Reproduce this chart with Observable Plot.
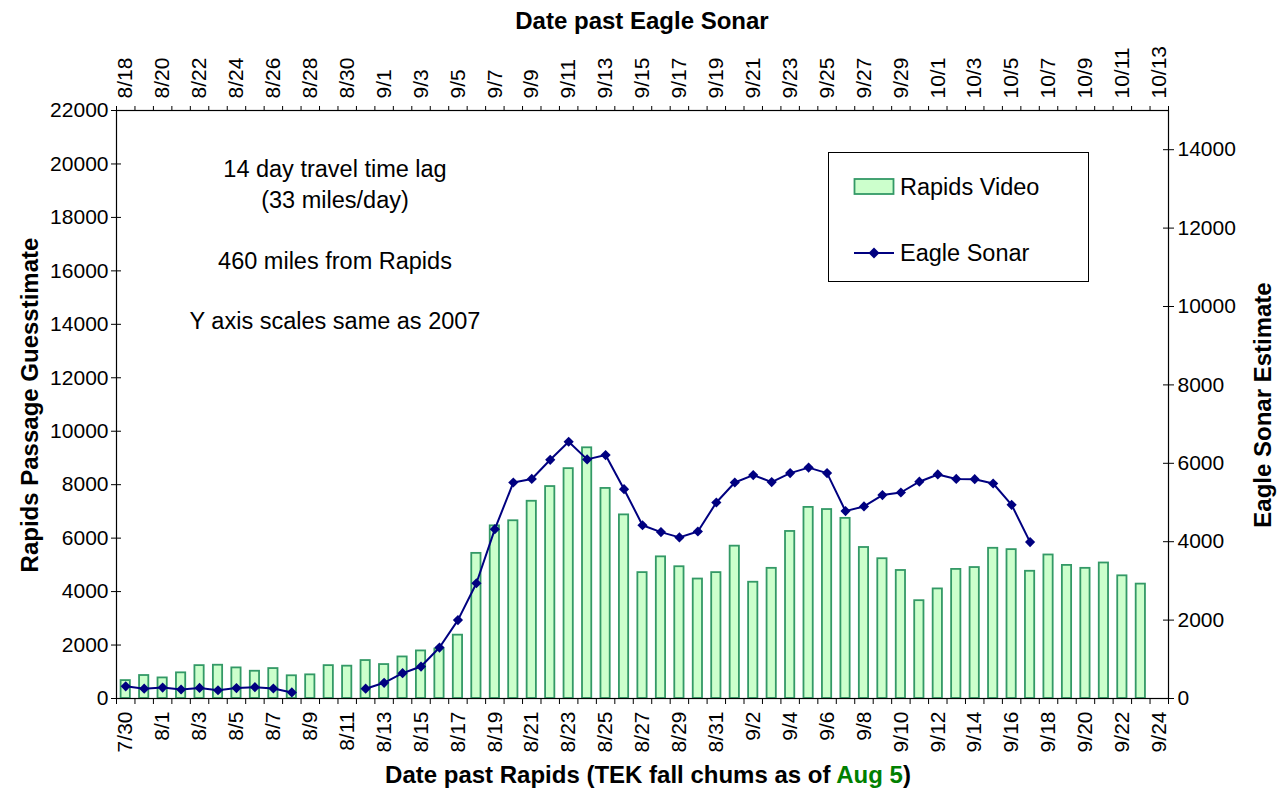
<!DOCTYPE html>
<html><head><meta charset="utf-8">
<script src="https://cdn.jsdelivr.net/npm/d3@7"></script>
<script src="https://cdn.jsdelivr.net/npm/@observablehq/plot@0.6"></script>
<style>
body{margin:0;background:#fff;font-family:"Liberation Sans",Arial,sans-serif;}
#wrap{position:relative;width:1288px;height:789px;overflow:hidden;}
#wrap svg{position:absolute;left:0;top:0;}
.t{position:absolute;white-space:nowrap;color:#000;line-height:1;transform:translate(-50%,-50%);}
.b{font-weight:bold;font-size:24px;}
.ann{font-size:23.5px;}
.rot{transform:translate(-50%,-50%) rotate(-90deg);}
#legend{position:absolute;left:828px;top:152px;width:261px;height:130px;border:1px solid #000;box-sizing:border-box;background:#fff;}
</style></head><body><div id="wrap"></div>
<script>
// ---------- data ----------
const year = 2008;
// Rapids video: daily passage by date past Rapids
const rapidsDays = ["7/30","7/31","8/1","8/2","8/3","8/4","8/5","8/6","8/7","8/8","8/9","8/10","8/11","8/12","8/13","8/14","8/15","8/16","8/17","8/18","8/19","8/20","8/21","8/22","8/23","8/24","8/25","8/26","8/27","8/28","8/29","8/30","8/31","9/1","9/2","9/3","9/4","9/5","9/6","9/7","9/8","9/9","9/10","9/11","9/12","9/13","9/14","9/15","9/16","9/17","9/18","9/19","9/20","9/21","9/22","9/23"];
const rapidsVideo = [670,860,770,960,1230,1245,1145,1020,1120,850,885,1230,1210,1420,1270,1555,1780,1850,2370,5430,6460,6650,7380,7930,8600,9380,7860,6870,4710,5300,4930,4470,4710,5700,4350,4870,6250,7150,7070,6740,5650,5230,4790,3660,4100,4830,4900,5620,5570,4760,5370,4980,4870,5070,4590,4280];
// Eagle sonar: daily estimate by date past Eagle (null = no data)
const sonarDays = ["8/18","8/19","8/20","8/21","8/22","8/23","8/24","8/25","8/26","8/27","8/28","8/29","8/30","8/31","9/1","9/2","9/3","9/4","9/5","9/6","9/7","9/8","9/9","9/10","9/11","9/12","9/13","9/14","9/15","9/16","9/17","9/18","9/19","9/20","9/21","9/22","9/23","9/24","9/25","9/26","9/27","9/28","9/29","9/30","10/1","10/2","10/3","10/4","10/5","10/6"];
const eagleSonar = [310,250,280,230,270,210,265,290,255,155,null,null,null,250,400,645,815,1300,2000,2940,4320,5510,5600,6090,6550,6100,6210,5340,4420,4245,4110,4260,5000,5510,5700,5520,5750,5890,5750,4780,4900,5190,5255,5530,5715,5600,5595,5485,4940,3990];
// axis tick labels
const bottomLabels = ["7/30","8/1","8/3","8/5","8/7","8/9","8/11","8/13","8/15","8/17","8/19","8/21","8/23","8/25","8/27","8/29","8/31","9/2","9/4","9/6","9/8","9/10","9/12","9/14","9/16","9/18","9/20","9/22","9/24"];
const topLabels = ["8/18","8/20","8/22","8/24","8/26","8/28","8/30","9/1","9/3","9/5","9/7","9/9","9/11","9/13","9/15","9/17","9/19","9/21","9/23","9/25","9/27","9/29","10/1","10/3","10/5","10/7","10/9","10/11","10/13"];
const leftTicks = [0,2000,4000,6000,8000,10000,12000,14000,16000,18000,20000,22000];
const rightTicks = [0,2000,4000,6000,8000,10000,12000,14000];
const leftMax = 22000, rightMax = 15000;

// ---------- helpers ----------
const toDate = s => { const [m, d] = s.split("/").map(Number); return new Date(Date.UTC(year, m - 1, d)); };
const noon = s => d3.utcHour.offset(toDate(s), 12);
const W = 1288, H = 789;
const M = {top: 110, right: 120, bottom: 91, left: 116};
const frameW = W - M.left - M.right;
const font = {fontSize: "21px", fontFamily: "'Liberation Sans', Arial, sans-serif", background: "transparent", overflow: "visible"};

const bars = rapidsDays.map((day, i) => ({day, value: rapidsVideo[i]}));
const sonar = sonarDays.map((day, i) => ({day, value: eagleSonar[i]}));

// bottom (Rapids) date axis
const bStart = toDate(rapidsDays[0]);
const bEnd = d3.utcDay.offset(toDate(bottomLabels[bottomLabels.length - 1]), 1);
const bBounds = d3.utcDay.range(bStart, d3.utcDay.offset(bEnd, 1));
const bLabelMap = new Map(bottomLabels.map(s => [+noon(s), s]));
// top (Eagle) date axis
const tStart = toDate(topLabels[0]);
const tEnd = d3.utcDay.offset(toDate(topLabels[topLabels.length - 1]), 1);
const tBounds = d3.utcDay.range(tStart, d3.utcDay.offset(tEnd, 1));
const tLabelMap = new Map(topLabels.map(s => [+noon(s), s]));

const base = Plot.plot({
  width: W, height: H,
  marginTop: M.top, marginRight: M.right, marginBottom: M.bottom, marginLeft: M.left,
  style: font,
  x: {type: "utc", domain: [bStart, bEnd]},
  y: {domain: [0, leftMax]},
  marks: [
    Plot.rectY(bars, {x1: d => toDate(d.day), x2: d => d3.utcDay.offset(toDate(d.day), 1), y: "value",
      fill: "#ccffcc", stroke: "#339966", strokeWidth: 1.8, insetLeft: 4.6, insetRight: 4.6}),
    Plot.frame({stroke: "#000", strokeWidth: 1.2}),
    Plot.axisY({ticks: leftTicks, tickSize: 5, tickPadding: 3, tickFormat: d => String(d), label: null, stroke: "#000", fill: "#000"}),
    Plot.tickY(leftTicks, {y: d => d, insetRight: frameW - 5, stroke: "#000"}),
    Plot.axisX({anchor: "bottom", ticks: bBounds, tickSize: 6, tickFormat: () => "", label: null, stroke: "#000"}),
    Plot.axisX({anchor: "bottom", ticks: bottomLabels.map(noon), tickSize: 0, tickPadding: 13, tickRotate: -90,
      tickFormat: d => bLabelMap.get(+d), label: null, fill: "#000"})
  ]
});

const over = Plot.plot({
  width: W, height: H,
  marginTop: M.top, marginRight: M.right, marginBottom: M.bottom, marginLeft: M.left,
  style: font,
  x: {type: "utc", domain: [tStart, tEnd]},
  y: {domain: [0, rightMax]},
  marks: [
    Plot.line(sonar, {x: d => noon(d.day), y: "value", stroke: "#000080", strokeWidth: 2}),
    Plot.dot(sonar.filter(d => d.value != null), {x: d => noon(d.day), y: "value", symbol: "diamond2", r: 4.6, fill: "#000080", stroke: "none"}),
    Plot.axisY({anchor: "right", ticks: rightTicks, tickSize: 5, tickPadding: 4, tickFormat: d => String(d), label: null, stroke: "#000", fill: "#000"}),
    Plot.tickY(rightTicks, {y: d => d, insetLeft: frameW - 5, stroke: "#000"}),
    Plot.axisX({anchor: "top", ticks: tBounds, tickSize: 5, tickFormat: () => "", label: null, stroke: "#000"}),
    Plot.axisX({anchor: "top", ticks: topLabels.map(noon), tickSize: 0, tickPadding: 12, tickRotate: -90,
      tickFormat: d => tLabelMap.get(+d), label: null, fill: "#000"})
  ]
});

const wrap = document.getElementById("wrap");
wrap.appendChild(base);
wrap.appendChild(over);

function addText(html, cls, x, y) {
  const el = document.createElement("div");
  el.className = "t " + cls;
  el.style.left = x + "px"; el.style.top = y + "px";
  el.innerHTML = html;
  wrap.appendChild(el);
  return el;
}
addText("Date past Eagle Sonar", "b", 642, 21);
addText('Date past Rapids (TEK fall chums as of <span style="color:#008000">Aug 5</span>)', "b", 648, 775);
addText("Rapids Passage Guesstimate", "b rot", 30, 405);
addText("Eagle Sonar Estimate", "b rot", 1263, 405);
addText("14 day travel time lag", "ann", 335, 170);
addText("(33 miles/day)", "ann", 335, 201);
addText("460 miles from Rapids", "ann", 335, 262);
addText("Y axis scales same as 2007", "ann", 335, 322);

// legend
const lg = document.createElement("div");
lg.id = "legend";
lg.innerHTML = `
<svg width="261" height="130" style="position:absolute;left:0;top:0;overflow:visible">
  <rect x="25.5" y="26" width="39" height="15" fill="#ccffcc" stroke="#339966" stroke-width="1.8"/>
  <line x1="25" x2="65" y1="100" y2="100" stroke="#000080" stroke-width="2"/>
  <path d="M45,94.5L50.5,100L45,105.5L39.5,100Z" fill="#000080"/>
  <text x="71" y="34" dominant-baseline="central" font-size="23.5" font-family="'Liberation Sans', Arial, sans-serif">Rapids Video</text>
  <text x="71" y="100" dominant-baseline="central" font-size="23.5" font-family="'Liberation Sans', Arial, sans-serif">Eagle Sonar</text>
</svg>`;
wrap.appendChild(lg);
</script>
</body></html>
